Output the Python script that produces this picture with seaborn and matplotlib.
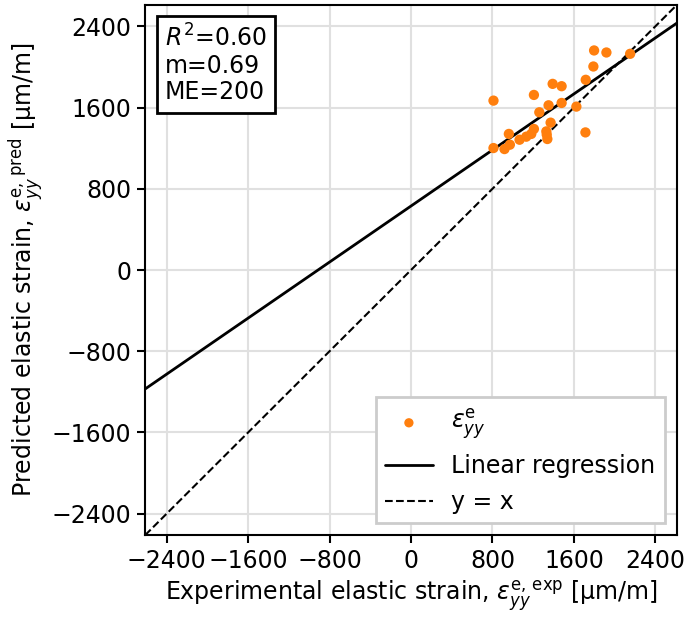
import numpy as np
import pandas as pd
import matplotlib
matplotlib.use("Agg")
import matplotlib.pyplot as plt
import seaborn as sns

# Data
exp_strain = [1798, 1919, 2152, 1791, 1716, 1391, 1479, 1207, 810, 1479,
              1351, 1624, 1260, 1371, 1713, 1329, 1339, 1333, 1207, 1181,
              1132, 1066, 961, 971, 918, 810]
pred_strain = [2162, 2142, 2129, 2004, 1873, 1833, 1810, 1724, 1668, 1645,
               1622, 1609, 1553, 1451, 1355, 1365, 1290, 1333, 1389, 1340,
               1313, 1283, 1340, 1234, 1191, 1201]
reg_slope = 0.69
reg_intercept = 630
stats_text = ["$R^2$=0.60", "m=0.69", "ME=200"]
ticks = [-2400, -1600, -800, 0, 800, 1600, 2400]
lim = (-2610, 2610)

sns.set_style("whitegrid")
plt.rcParams["font.family"] = ["DejaVu Sans"]
plt.rcParams["mathtext.fontset"] = "dejavusans"
for k in ["text.color", "axes.labelcolor", "xtick.color", "ytick.color"]:
    plt.rcParams[k] = "black"

FS = 17

fig = plt.figure(figsize=(6.85, 6.2), dpi=100)
ax = fig.add_axes([0.212, 0.137, 0.776, 0.855])

df = pd.DataFrame({"x": exp_strain, "y": pred_strain})
line_x = np.array(lim)
reg_df = pd.DataFrame({"x": line_x, "y": reg_slope * line_x + reg_intercept})
id_df = pd.DataFrame({"x": line_x, "y": line_x})

sns.scatterplot(data=df, x="x", y="y", ax=ax, color="#ff7f0e", s=55,
                edgecolor="none", label=r"$\varepsilon_{yy}^{\mathrm{e}}$", zorder=3)
sns.lineplot(data=reg_df, x="x", y="y", ax=ax, color="black", lw=2,
             label="Linear regression", zorder=2)
sns.lineplot(data=id_df, x="x", y="y", ax=ax, color="black", lw=1.5,
             linestyle="--", label="y = x", zorder=2)

ax.set_xlim(lim)
ax.set_ylim(lim)
ax.set_xticks(ticks)
ax.set_yticks(ticks)
ax.grid(True, color="#e0e0e0", lw=1.5)
for s in ax.spines.values():
    s.set_color("black")
    s.set_linewidth(1.5)
ax.tick_params(axis="both", which="major", direction="out", length=6, width=1.5,
               color="black", labelcolor="black", labelsize=FS,
               bottom=True, left=True, pad=4)

ax.set_xlabel(r"Experimental elastic strain, $\varepsilon_{yy}^{\mathrm{e,\,exp}}$ [μm/m]",
              fontsize=FS, color="black")
ax.set_ylabel(r"Predicted elastic strain, $\varepsilon_{yy}^{\mathrm{e,\,pred}}$ [μm/m]",
              fontsize=FS, color="black")

ax.text(0.037, 0.963, "\n".join(stats_text), transform=ax.transAxes,
        ha="left", va="top", fontsize=FS, linespacing=1.12, color="black",
        bbox=dict(boxstyle="square,pad=0.35", facecolor="white",
                  edgecolor="black", linewidth=2), zorder=5)

leg = ax.legend(loc="lower right", fontsize=FS, frameon=True, fancybox=False,
                framealpha=1, edgecolor="#cccccc", borderpad=0.4,
                handlelength=2.0, markerscale=0.9)
leg.get_frame().set_linewidth(2)
for t in leg.get_texts():
    t.set_color("black")

fig.savefig("out.png", dpi=100)
